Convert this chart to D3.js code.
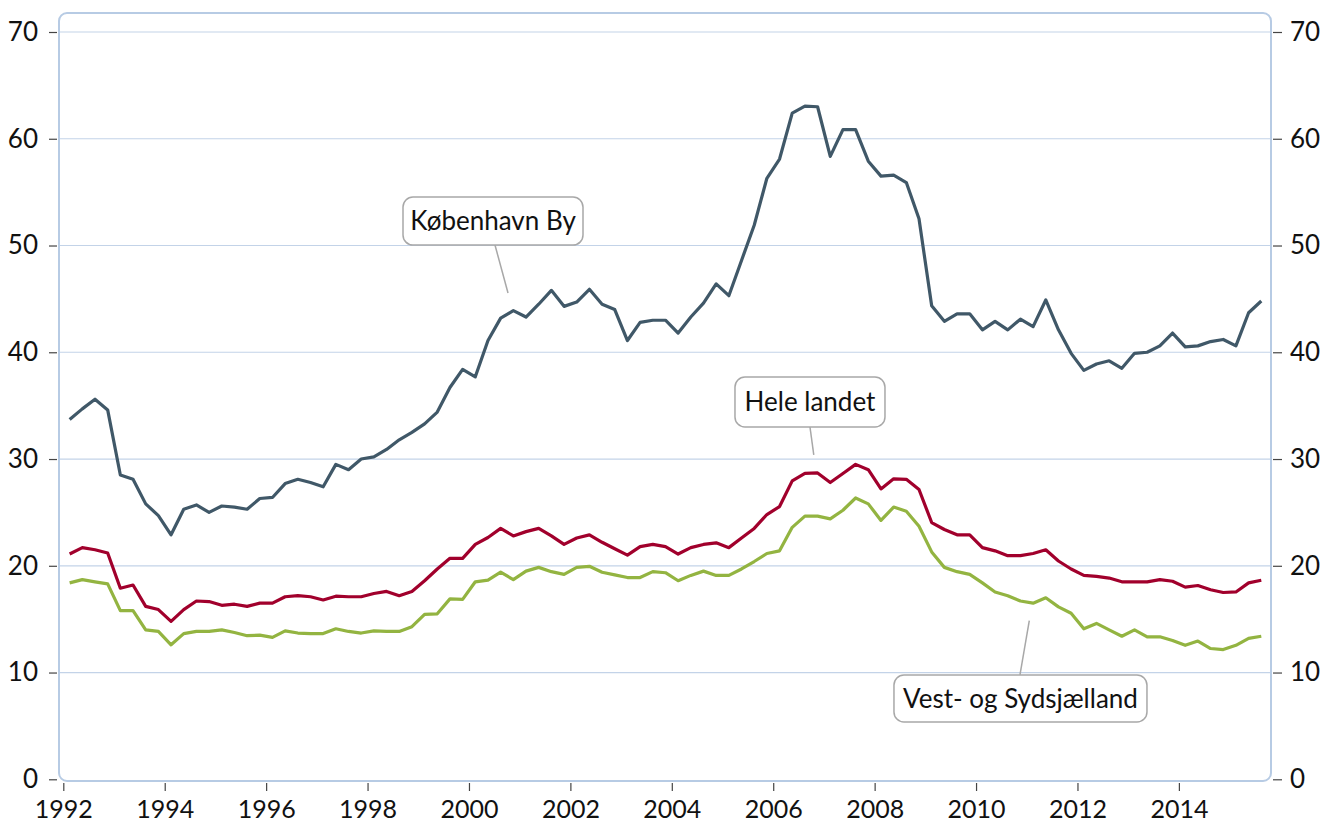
<!DOCTYPE html>
<html>
<head>
<meta charset="utf-8">
<script src="https://cdn.jsdelivr.net/npm/d3@7"></script>
<style>
  body { margin: 0; background: #ffffff; }
  svg text { font-family: Lato, "DejaVu Sans", sans-serif; fill: #111; }
</style>
</head>
<body>
<div id="chart"></div>
<script>
/* quarterly series, 1992K1 - 2015K3 */
const firstYear = 1992;
const kbh = [
  33.7, 34.7, 35.6, 34.6, 28.5, 28.1, 25.8, 24.7, 22.9, 25.3,
  25.7, 25.0, 25.6, 25.5, 25.3, 26.3, 26.4, 27.7, 28.1, 27.8,
  27.4, 29.5, 29.0, 30.0, 30.2, 30.9, 31.8, 32.5, 33.3, 34.4,
  36.7, 38.4, 37.7, 41.1, 43.2, 43.9, 43.3, 44.5, 45.8, 44.3,
  44.7, 45.9, 44.5, 44.0, 41.1, 42.8, 43.0, 43.0, 41.8, 43.3,
  44.6, 46.4, 45.3, 48.6, 51.9, 56.3, 58.1, 62.4, 63.05, 63.0,
  58.35, 60.85, 60.85, 57.9, 56.5, 56.6, 55.9, 52.5, 44.35, 42.9,
  43.6, 43.6, 42.1, 42.9, 42.1, 43.1, 42.4, 44.9, 42.1, 39.9,
  38.3, 38.9, 39.2, 38.5, 39.9, 40.0, 40.6, 41.8, 40.5, 40.6,
  41.0, 41.2, 40.6, 43.7, 44.8
];
const heleLandet = [
  21.1, 21.7, 21.5, 21.2, 17.9, 18.2, 16.2, 15.9, 14.8, 15.9,
  16.7, 16.65, 16.3, 16.4, 16.2, 16.5, 16.5, 17.1, 17.2, 17.1,
  16.8, 17.15, 17.1, 17.1, 17.4, 17.6, 17.2, 17.6, 18.6, 19.7,
  20.7, 20.7, 22.0, 22.65, 23.5, 22.8, 23.2, 23.5, 22.8, 22.0,
  22.6, 22.9, 22.2, 21.6, 21.0, 21.8, 22.0, 21.8, 21.1, 21.7,
  22.0, 22.15, 21.7, 22.6, 23.5, 24.8, 25.55, 27.95, 28.65, 28.7,
  27.8, 28.65, 29.5, 29.0, 27.2, 28.15, 28.1, 27.15, 24.05, 23.4,
  22.9, 22.9, 21.7, 21.4, 20.95, 20.95, 21.15, 21.5, 20.45, 19.7,
  19.1, 19.0, 18.85, 18.5, 18.5, 18.5, 18.7, 18.55, 18.0, 18.15,
  17.75, 17.5, 17.55, 18.4, 18.65
];
const vestSyd = [
  18.4, 18.7, 18.5, 18.3, 15.8, 15.8, 14.0, 13.85, 12.6, 13.65,
  13.85, 13.85, 14.0, 13.75, 13.45, 13.5, 13.3, 13.9, 13.7, 13.65,
  13.65, 14.1, 13.85, 13.7, 13.9, 13.85, 13.85, 14.3, 15.45, 15.5,
  16.9, 16.85, 18.5, 18.65, 19.4, 18.7, 19.5, 19.85, 19.45, 19.2,
  19.85, 19.95, 19.4, 19.15, 18.9, 18.9, 19.45, 19.35, 18.6, 19.1,
  19.5, 19.1, 19.1, 19.7, 20.4, 21.15, 21.4, 23.6, 24.65, 24.65,
  24.4, 25.2, 26.35, 25.8, 24.25, 25.5, 25.1, 23.7, 21.3, 19.85,
  19.45, 19.2, 18.4, 17.55, 17.2, 16.7, 16.5, 17.0, 16.15, 15.55,
  14.1, 14.6, 14.0, 13.4, 14.0, 13.35, 13.35, 13.0, 12.55, 12.95,
  12.25, 12.15, 12.55, 13.2, 13.4
];
const yTicks = [0, 10, 20, 30, 40, 50, 60, 70];
const xTicks = [1992, 1994, 1996, 1998, 2000, 2002, 2004, 2006, 2008, 2010, 2012, 2014];

/* each quarter is drawn at its middle */
const quarterTime = (i) => firstYear + Math.floor(i / 4) + ((i % 4) + 0.5) / 4;

const seriesList = [
  { name: "København By", values: kbh, color: "#405868" },
  { name: "Hele landet", values: heleLandet, color: "#a1002c" },
  { name: "Vest- og Sydsjælland", values: vestSyd, color: "#93b441" }
];

/* label boxes: centre (year, value), size in px, leader from -> to */
const labels = [
  { text: "København By", cx: 2000.474, cy: 52.29, w: 180, h: 48, from: [2000.513, 50.05], to: [2000.77, 45.55] },
  { text: "Hele landet", cx: 2006.725, cy: 35.34, w: 150, h: 50, from: [2006.725, 33.0], to: [2006.80, 30.38] },
  { text: "Vest- og Sydsjælland", cx: 2010.876, cy: 7.57, w: 253, h: 47, from: [2010.866, 9.78], to: [2011.05, 14.86] }
];

const width = 1321, height = 824;
const frame = { left: 59, top: 13, right: 1271, bottom: 781 };

const xScale = d3.scaleLinear().domain([1992, 2016]).range([63.3, 1280.3]);
const yScale = d3.scaleLinear().domain([0, 70]).range([779.3, 32]);

const svg = d3.select("#chart").append("svg")
  .attr("width", width)
  .attr("height", height);

/* grid */
svg.append("g").attr("class", "grid")
  .selectAll("line")
  .data(yTicks.filter(t => t > 0))
  .enter().append("line")
  .attr("x1", frame.left).attr("x2", frame.right)
  .attr("y1", d => yScale(d)).attr("y2", d => yScale(d))
  .attr("stroke", "#c3d3e8").attr("stroke-width", 1.2);

/* plot frame with rounded corners */
svg.append("rect")
  .attr("x", frame.left).attr("y", frame.top)
  .attr("width", frame.right - frame.left)
  .attr("height", frame.bottom - frame.top)
  .attr("rx", 8).attr("ry", 8)
  .attr("fill", "none")
  .attr("stroke", "#b7cbe4").attr("stroke-width", 2);

/* axes */
const styleAxis = (size) => (g) => {
  g.select(".domain").remove();
  g.selectAll(".tick line").attr("stroke", "#444").attr("stroke-width", 1.2);
  g.selectAll(".tick text").attr("font-size", size).attr("fill", "#111");
};

svg.append("g")
  .attr("transform", "translate(57,0)")
  .call(d3.axisLeft(yScale).tickValues(yTicks).tickSize(8).tickPadding(11))
  .call(styleAxis(26));

svg.append("g")
  .attr("transform", "translate(1273,0)")
  .call(d3.axisRight(yScale).tickValues(yTicks).tickSize(9).tickPadding(8))
  .call(styleAxis(26));

svg.append("g")
  .attr("transform", "translate(0,783)")
  .call(d3.axisBottom(xScale).tickValues(xTicks).tickFormat(d3.format("d")).tickSize(8).tickPadding(9))
  .call(styleAxis(25));

/* lines */
const line = d3.line()
  .x((d, i) => xScale(quarterTime(i)))
  .y(d => yScale(d));

svg.append("g").selectAll("path")
  .data(seriesList)
  .enter().append("path")
  .attr("d", d => line(d.values))
  .attr("fill", "none")
  .attr("stroke", d => d.color)
  .attr("stroke-width", 3.2)
  .attr("stroke-linejoin", "round");

/* labels */
const lab = svg.append("g").selectAll("g")
  .data(labels)
  .enter().append("g");

lab.append("line")
  .attr("x1", d => xScale(d.from[0])).attr("y1", d => yScale(d.from[1]))
  .attr("x2", d => xScale(d.to[0])).attr("y2", d => yScale(d.to[1]))
  .attr("stroke", "#a8a8a8").attr("stroke-width", 1.5);

lab.append("rect")
  .attr("x", d => xScale(d.cx) - d.w / 2)
  .attr("y", d => yScale(d.cy) - d.h / 2)
  .attr("width", d => d.w).attr("height", d => d.h)
  .attr("rx", 10).attr("ry", 10)
  .attr("fill", "#fff")
  .attr("stroke", "#a8a8a8").attr("stroke-width", 1.5);

lab.append("text")
  .attr("x", d => xScale(d.cx))
  .attr("y", d => yScale(d.cy))
  .attr("dy", "0.36em")
  .attr("text-anchor", "middle")
  .attr("font-size", 26)
  .text(d => d.text);
</script>
</body>
</html>
